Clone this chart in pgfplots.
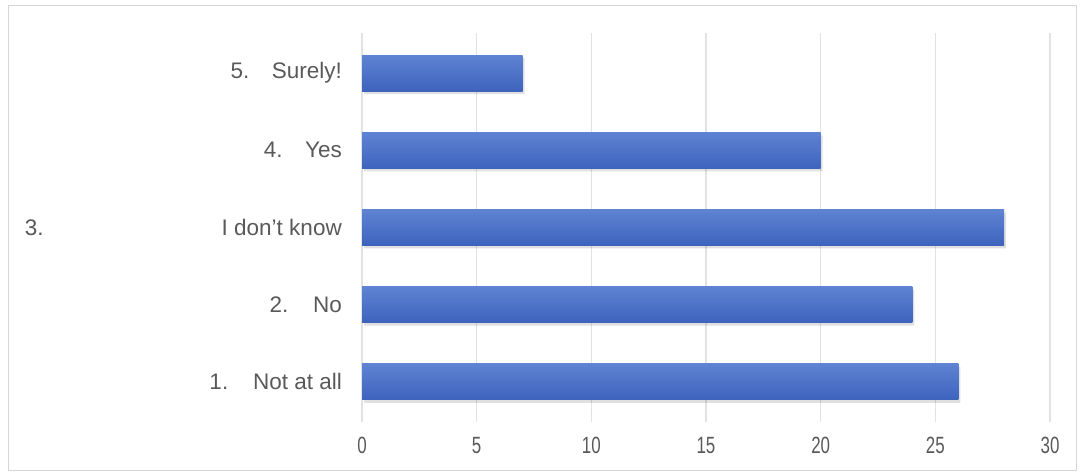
\documentclass[border=0pt]{standalone}
\usepackage{fontspec}
\setmainfont{Liberation Sans}
\usepackage{pgfplots}
\pgfplotsset{compat=1.18}
\definecolor{txt}{HTML}{595959}
\definecolor{grd}{HTML}{E2E2E2}
\definecolor{frm}{HTML}{D6D6D6}
\definecolor{bartop}{HTML}{5E83D3}
\definecolor{barbot}{HTML}{3D63BD}
\begin{document}
\begin{tikzpicture}[x=1pt,y=1pt]
\useasboundingbox (0,0) rectangle (1084,474);
\draw[frm, line width=1pt] (8,4) rectangle (1076,468);
\begin{axis}[
  at={(362pt,52pt)}, anchor=south west,
  scale only axis, width=688pt, height=389pt,
  xmin=0, xmax=30, ymin=0.48, ymax=5.52,
  xtick={0,5,...,30}, ytick={1,2,3,4,5},
  yticklabels={{1.\hspace{1.1em}Not at all},{2.\hspace{1.1em}No},{\makebox[317pt][l]{3.\hfill I don't know}},{4.\hspace{1.0em}Yes},{5.\hspace{1.0em}Surely!}},
  axis line style={draw=none}, major tick style={draw=none},
  xmajorgrids, grid style={grd, line width=1.2pt},
  tick label style={font=\fontsize{22.5}{26}\selectfont, text=txt},
  /pgf/number format/assume math mode=true,
  xticklabel style={font=\fontsize{23.5}{26}\selectfont, xscale=0.72, inner sep=0pt, anchor=north, yshift=-15pt},
  yticklabel style={inner sep=0pt, anchor=east, xshift=-20pt},
  clip=false,
  every axis plot/.append style={xbar, bar width=36pt, bar shift=0pt, draw=none},
  shadowbar/.style={fill=black, opacity=0.12, xshift=2pt, yshift=-3pt},
  bluebar/.style={top color=bartop, bottom color=barbot},
]
\addplot[shadowbar] coordinates {(26,1) (24,2) (28,3) (20,4) (7,5)};
\addplot[bluebar] coordinates {(26,1)};
\addplot[bluebar] coordinates {(24,2)};
\addplot[bluebar] coordinates {(28,3)};
\addplot[bluebar] coordinates {(20,4)};
\addplot[bluebar] coordinates {(7,5)};
\end{axis}
\end{tikzpicture}
\end{document}
